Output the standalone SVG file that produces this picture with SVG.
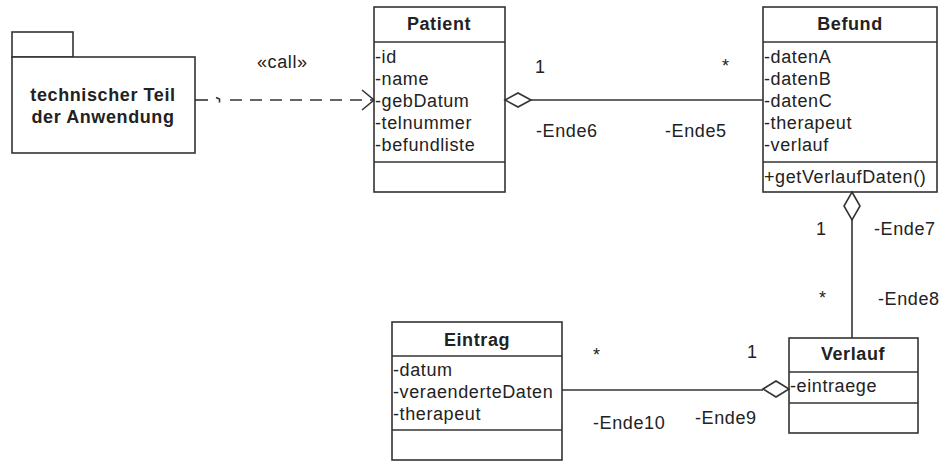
<svg xmlns="http://www.w3.org/2000/svg" width="943" height="462" viewBox="0 0 943 462">
<style>
.box{fill:#fff;stroke:#333;stroke-width:1.6}
.sep{stroke:#333;stroke-width:1.6}
.t{font-family:"Liberation Sans",Arial,sans-serif;font-size:18px;letter-spacing:0.6px;fill:#222}
.b{font-family:"Liberation Sans",Arial,sans-serif;font-size:18px;letter-spacing:0.6px;font-weight:bold;fill:#222;text-anchor:middle}
.ln{fill:none;stroke:#333;stroke-width:1.6}
.dia{fill:#fff;stroke:#333;stroke-width:1.6}
</style>
<rect width="943" height="462" fill="#fff"/>
<g id="package">
<rect class="box" x="12" y="32" width="61" height="25"/>
<rect class="box" x="12" y="57" width="183" height="96"/>
<text class="b" x="103" y="101">technischer Teil</text>
<text class="b" x="103" y="123">der Anwendung</text>
</g>
<g id="patient">
<rect class="box" x="374" y="7" width="131" height="185"/>
<line class="sep" x1="374" y1="42" x2="505" y2="42"/>
<line class="sep" x1="374" y1="162" x2="505" y2="162"/>
<text class="b" x="439" y="30">Patient</text>
<text class="t" x="375" y="63">-id</text>
<text class="t" x="375" y="85">-name</text>
<text class="t" x="375" y="107">-gebDatum</text>
<text class="t" x="375" y="129">-telnummer</text>
<text class="t" x="375" y="151">-befundliste</text>
</g>
<g id="befund">
<rect class="box" x="763" y="7" width="174" height="185"/>
<line class="sep" x1="763" y1="42" x2="937" y2="42"/>
<line class="sep" x1="763" y1="162" x2="937" y2="162"/>
<text class="b" x="850" y="30">Befund</text>
<text class="t" x="764" y="63">-datenA</text>
<text class="t" x="764" y="85">-datenB</text>
<text class="t" x="764" y="107">-datenC</text>
<text class="t" x="764" y="129">-therapeut</text>
<text class="t" x="764" y="151">-verlauf</text>
<text class="t" x="764" y="183">+getVerlaufDaten()</text>
</g>
<g id="eintrag">
<rect class="box" x="392" y="322" width="170" height="138"/>
<line class="sep" x1="392" y1="356" x2="562" y2="356"/>
<line class="sep" x1="392" y1="430" x2="562" y2="430"/>
<text class="b" x="477" y="346">Eintrag</text>
<text class="t" x="393" y="376">-datum</text>
<text class="t" x="393" y="398">-veraenderteDaten</text>
<text class="t" x="393" y="420">-therapeut</text>
</g>
<g id="verlauf">
<rect class="box" x="789" y="338" width="129" height="95"/>
<line class="sep" x1="789" y1="372" x2="918" y2="372"/>
<line class="sep" x1="789" y1="403" x2="918" y2="403"/>
<text class="b" x="853" y="360">Verlauf</text>
<text class="t" x="790" y="392">-eintraege</text>
</g>
<g id="connectors">
<g id="call">
<line class="ln" x1="195" y1="100" x2="208" y2="100"/>
<path class="ln" d="M216,97.5 L219.5,99 L219.5,102.5"/>
<line class="ln" x1="230" y1="100" x2="373" y2="100" stroke-dasharray="12,8"/>
<path class="ln" d="M362,90 L374,100 L362,110"/>
<text class="t" x="257" y="68">«call»</text>
</g>
<g id="patient-befund">
<line class="ln" x1="531" y1="100" x2="763" y2="100"/>
<path class="dia" d="M505,100 L518,93 L531,100 L518,107 Z"/>
<text class="t" x="535" y="73">1</text>
<text class="t" x="536" y="137">-Ende6</text>
<text class="t" x="722" y="72">*</text>
<text class="t" x="665" y="137">-Ende5</text>
</g>
<g id="befund-verlauf">
<line class="ln" x1="852" y1="220" x2="852" y2="338"/>
<path class="dia" d="M852,192 L860,206 L852,220 L844,206 Z"/>
<text class="t" x="816" y="235">1</text>
<text class="t" x="874" y="235">-Ende7</text>
<text class="t" x="819" y="304">*</text>
<text class="t" x="878" y="305">-Ende8</text>
</g>
<g id="eintrag-verlauf">
<line class="ln" x1="562" y1="390" x2="763" y2="390"/>
<path class="dia" d="M763,389 L776,381 L789,389 L776,397 Z"/>
<text class="t" x="593" y="361">*</text>
<text class="t" x="747" y="358">1</text>
<text class="t" x="593" y="429">-Ende10</text>
<text class="t" x="695" y="424">-Ende9</text>
</g>
</g>
</svg>
